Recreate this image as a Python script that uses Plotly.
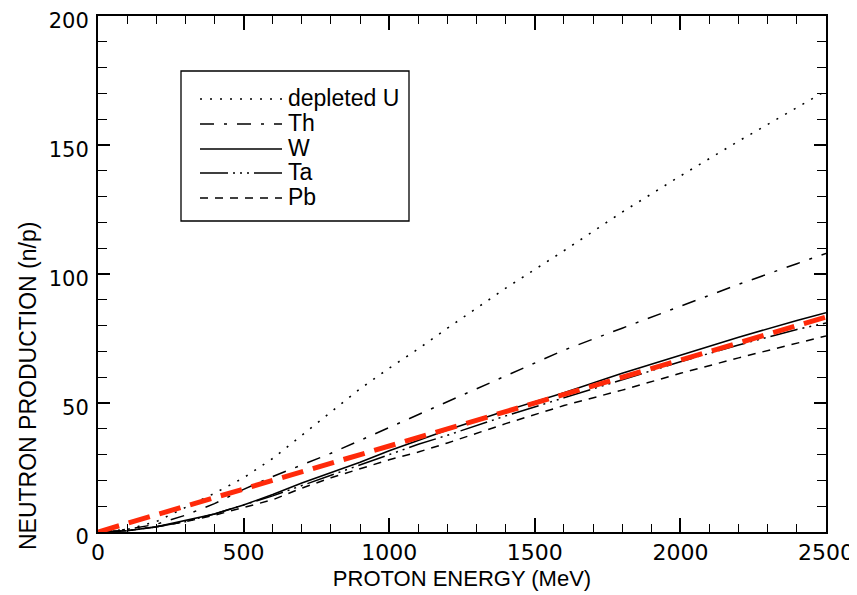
import plotly.graph_objects as go

# ---- data ----
energy = [0, 100, 200, 300, 400, 500, 600, 700, 800, 900, 1000, 1100, 1200, 1400,
          1600, 1800, 2000, 2200, 2400, 2500]
depleted_U = [0, 1, 4, 9.5, 15, 21, 28.5, 37.5, 46.5, 55.5, 63.5, 71, 79, 94.5,
              109, 124, 138, 151.5, 164.5, 171]
thorium = [0, 1, 3, 6.5, 11, 16.5, 21.5, 26, 30.5, 35.5, 40.5, 45.5, 50.5, 60.5,
           70.5, 79, 87.5, 96, 104, 108]
tungsten = [0, 0.5, 2, 4.5, 7, 10.5, 14.5, 19, 23, 27, 31.5, 35.5, 39.5, 47,
            54, 61.5, 68.5, 75.5, 82, 85]
tantalum = [0, 0.5, 2, 4, 7, 10.5, 14, 18, 22, 26, 30, 34, 37.5, 45,
            52, 59, 66, 72.5, 78.5, 81]
lead = [0, 0.5, 2, 4, 6.5, 9.5, 12.5, 17, 21, 24.5, 28, 31, 34.5, 42,
        49, 55, 61.5, 67.5, 73, 76]
red_energy = [0, 2500]
red_line = [0, 83.3]

legend_names = ["depleted U", "Th", "W", "Ta", "Pb"]

# ---- styles ----
FONT = "Liberation Sans, Arial, Helvetica, sans-serif"
TICKFONT = "DejaVu Sans, Liberation Sans, sans-serif"
styles = [
    dict(color="black", width=1.6, dash="2px,8px"),
    dict(color="black", width=1.5, dash="14px,10px,3px,10px"),
    dict(color="black", width=1.6, dash="solid"),
    dict(color="black", width=1.5, dash="28px,5px,2px,5px,2px,5px,2px,5px"),
    dict(color="black", width=1.5, dash="8px,7px"),
]
series = [depleted_U, thorium, tungsten, tantalum, lead]

fig = go.Figure()
for name, vals, st in zip(legend_names, series, styles):
    fig.add_trace(go.Scatter(x=energy, y=vals, mode="lines", name=name,
                             line=st, showlegend=False))
fig.add_trace(go.Scatter(x=red_energy, y=red_line, mode="lines", name="fit",
                         line=dict(color="#ff2a0a", width=5, dash="22px,10px"),
                         showlegend=False))

# ---- plot geometry (screen pixels; page body adds an 8px offset) ----
OFF = 8
W, H = 857 - OFF, 595 - OFF
L, R, T, B = 98, 826, 16, 532          # plot area on screen
pw, ph = R - L, B - T


def px(xp):
    return (xp - L) / pw


def py(yp):
    return (B - yp) / ph


shapes = []
annotations = []
# legend box
shapes.append(dict(type="rect", xref="paper", yref="paper",
                   x0=px(181), x1=px(409), y0=py(221), y1=py(71),
                   line=dict(color="black", width=1.3), fillcolor="white"))
ys = [98, 123, 148, 172, 197]
for name, st, yy in zip(legend_names, styles, ys):
    shapes.append(dict(type="line", xref="paper", yref="paper",
                       x0=px(200), x1=px(282), y0=py(yy + 1), y1=py(yy + 1),
                       line=st))
    annotations.append(dict(text=name, xref="paper", yref="paper",
                            x=px(286), y=py(yy), xanchor="left", yanchor="middle",
                            showarrow=False, font=dict(size=23, color="black", family=FONT)))

# y-axis title (offset downward as in original)
annotations.append(dict(text="NEUTRON PRODUCTION (n/p)", xref="paper", yref="paper",
                        x=px(28), y=py(386), textangle=-90, showarrow=False,
                        xanchor="center", yanchor="middle",
                        font=dict(size=23, color="black", family=FONT)))

fig.update_layout(
    width=W, height=H,
    margin=dict(l=L - OFF, r=(W + OFF) - R, t=T - OFF, b=(H + OFF) - B, autoexpand=False),
    paper_bgcolor="white", plot_bgcolor="white",
    font=dict(family=FONT, color="black"),
    shapes=shapes, annotations=annotations,
    showlegend=False,
)
fig.update_xaxes(
    range=[0, 2500], tickvals=[0, 500, 1000, 1500, 2000, 2500],
    ticks="inside", ticklen=14, tickwidth=1.6, tickcolor="black",
    minor=dict(dtick=100, ticks="inside", ticklen=8, tickwidth=1.4, tickcolor="black"),
    showline=True, linewidth=2, linecolor="black", mirror="ticks",
    showgrid=False, zeroline=False, automargin=False, ticklabeloverflow="allow",
    tickfont=dict(size=22, family=TICKFONT, color="black"),
    title=dict(text="PROTON ENERGY (MeV)", font=dict(size=22, family=FONT, color="black"),
               standoff=6),
)
fig.update_yaxes(
    range=[0, 200], tickvals=[0, 50, 100, 150, 200],
    ticks="inside", ticklen=12, tickwidth=1.6, tickcolor="black",
    minor=dict(dtick=10, ticks="inside", ticklen=9, tickwidth=1.4, tickcolor="black"),
    showline=True, linewidth=2, linecolor="black", mirror="ticks",
    showgrid=False, zeroline=False, automargin=False, ticklabeloverflow="allow",
    tickfont=dict(size=21, family=TICKFONT, color="black"),
    ticklabelstandoff=3, ticklabelshift=5,
)

fig.write_html("out.html")
